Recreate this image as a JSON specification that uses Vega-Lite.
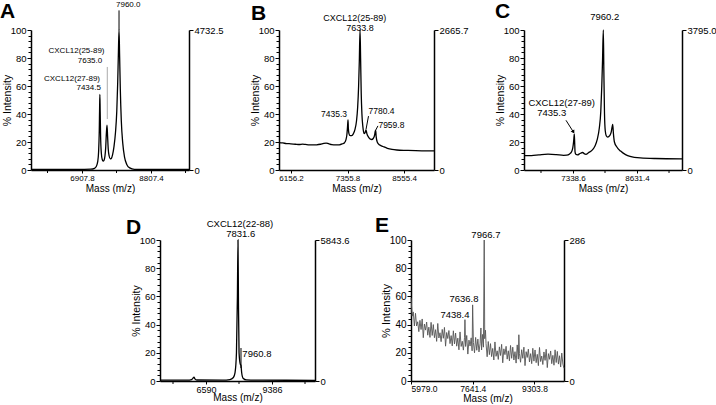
{
"$schema": "https://vega.github.io/schema/vega-lite/v6.json",
"padding": {"left": 0, "top": 0, "right": 0, "bottom": 0},
"spacing": 21,
"config": {
 "view": {"stroke": null},
 "font": "Liberation Sans",
 "title": {"font": "Liberation Sans", "color": "#000"},
 "text": {"font": "Liberation Sans", "color": "#000"},
 "axis": {"domainColor": "#000", "domainWidth": 1.5, "tickColor": "#000", "tickWidth": 1, "labelColor": "#000", "titleColor": "#000", "grid": false, "labelFont": "Liberation Sans", "titleFont": "Liberation Sans", "titleFontWeight": "normal", "labelOverlap": false, "labelFlush": false, "labelBound": false},
 "axisX": {"labelFontSize": 8, "titleFontSize": 10, "tickSize": 3, "labelPadding": 1, "titlePadding": 1},
 "axisY": {"labelFontSize": 9.5, "titleFontSize": 10.5, "tickSize": 4, "labelPadding": 1, "titlePadding": -2}
},
"vconcat": [
 {"hconcat": [
  {"width": 158, "height": 140,
   "title": {"text": "A", "anchor": "start", "frame": "group", "fontSize": 21, "fontWeight": "bold", "dx": -31, "dy": 21, "offset": 0},
   "resolve": {"scale": {"y": "independent"}},
   "layer": [
    {"data": {"values": [
      {"mass": 5504, "pct": 0.4}, {"mass": 6800, "pct": 0.4}, {"mass": 7150, "pct": 0.6}, {"mass": 7250, "pct": 1.2}, {"mass": 7300, "pct": 2.5}, {"mass": 7340, "pct": 6}, {"mass": 7365, "pct": 13}, {"mass": 7383, "pct": 28}, {"mass": 7393, "pct": 45}, {"mass": 7400, "pct": 54}, {"mass": 7408, "pct": 42}, {"mass": 7420, "pct": 24}, {"mass": 7440, "pct": 12}, {"mass": 7465, "pct": 7.5}, {"mass": 7490, "pct": 6.3}, {"mass": 7515, "pct": 7}, {"mass": 7540, "pct": 10}, {"mass": 7560, "pct": 16}, {"mass": 7578, "pct": 26}, {"mass": 7596, "pct": 32}, {"mass": 7612, "pct": 24}, {"mass": 7630, "pct": 15}, {"mass": 7655, "pct": 10}, {"mass": 7685, "pct": 8}, {"mass": 7715, "pct": 8.3}, {"mass": 7750, "pct": 11}, {"mass": 7790, "pct": 17}, {"mass": 7830, "pct": 27}, {"mass": 7865, "pct": 42}, {"mass": 7890, "pct": 62}, {"mass": 7910, "pct": 84}, {"mass": 7927, "pct": 100}, {"mass": 7943, "pct": 82}, {"mass": 7962, "pct": 58}, {"mass": 7990, "pct": 35}, {"mass": 8030, "pct": 19}, {"mass": 8080, "pct": 9}, {"mass": 8140, "pct": 4}, {"mass": 8220, "pct": 1.5}, {"mass": 8350, "pct": 0.5}, {"mass": 9853, "pct": 0.4}
     ]},
     "mark": {"type": "line", "color": "#000", "strokeWidth": 1.3, "interpolate": "monotone"},
     "encoding": {
      "x": {"field": "mass", "type": "quantitative", "title": "Mass (m/z)", "scale": {"domain": [5504, 9853], "nice": false, "zero": false},
            "axis": {"labelOverlap": false, "values": [6907.8, 8807.4], "format": ".1f"}},
      "y": {"field": "pct", "type": "quantitative", "scale": {"domain": [0, 100]},
            "axis": {"labelOverlap": false, "title": "% Intensity", "values": [0,4,8,12,16,20,24,28,32,36,40,44,48,52,56,60,64,68,72,76,80,84,88,92,96,100], "labelExpr": "datum.value % 20 === 0 ? datum.label : ''", "tickSize": {"condition": {"test": "datum.value % 20 === 0", "value": 4}, "value": 3}}}
     }},
    {"data": {"values": [{"mass": 5958}, {"mass": 7857.6}, {"mass": 9757.2}]},
     "mark": {"type": "rule", "color": "#000", "strokeWidth": 1},
     "encoding": {"x": {"field": "mass", "type": "quantitative", "title": "Mass (m/z)", "scale": {"domain": [5504, 9853], "nice": false, "zero": false}},
                  "y": {"datum": 0, "type": "quantitative", "scale": {"domain": [0, 100]}, "axis": null},
                  "y2": {"datum": -2.14}}},
    {"data": {"values": [{"abs": 0}, {"abs": 4732.5}]},
     "mark": {"type": "point", "opacity": 0},
     "encoding": {"y": {"field": "abs", "type": "quantitative", "scale": {"domain": [0, 4732.5], "nice": false}, "axis": {"orient": "right", "title": null, "values": [0, 4732.5], "labelExpr": "datum.value === 0 ? '0' : format(datum.value, '.1f')"}}}},
    {"data": {"values": [{"mass": 6757, "pct": 85.2, "label": "CXCL12(25-89)"}, {"mass": 7128, "pct": 78, "label": "7635.0"}, {"mass": 6633, "pct": 65, "label": "CXCL12(27-89)"}, {"mass": 7092, "pct": 58.3, "label": "7434.5"}]},
     "mark": {"type": "text", "fontSize": 8, "align": "center", "baseline": "middle"},
     "encoding": {"x": {"field": "mass", "type": "quantitative", "title": "Mass (m/z)", "scale": {"domain": [5504, 9853], "nice": false, "zero": false}},
                  "y": {"field": "pct", "type": "quantitative", "scale": {"domain": [0, 100]}, "axis": null},
                  "text": {"field": "label"}}},
    {"data": {"values": [{"mass": 7844, "pct": 118, "label": "7960.0"}]},
     "mark": {"type": "text", "fontSize": 8, "align": "left", "baseline": "middle"},
     "encoding": {"x": {"field": "mass", "type": "quantitative", "title": "Mass (m/z)", "scale": {"domain": [5504, 9853], "nice": false, "zero": false}},
                  "y": {"field": "pct", "type": "quantitative", "scale": {"domain": [0, 100]}, "axis": null},
                  "text": {"field": "label"}}},
    {"data": {"values": [{"mass": 7927, "pct": 100, "pct2": 114}]},
     "mark": {"type": "rule", "color": "#000", "strokeWidth": 1},
     "encoding": {"x": {"field": "mass", "type": "quantitative", "title": "Mass (m/z)", "scale": {"domain": [5504, 9853], "nice": false, "zero": false}},
                  "y": {"field": "pct", "type": "quantitative", "scale": {"domain": [0, 100]}, "axis": null},
                  "y2": {"field": "pct2"}}},
    {"data": {"values": [{"mass": 7604, "pct": 36.4, "pct2": 73.6}]},
     "mark": {"type": "rule", "color": "#aaa", "strokeWidth": 1},
     "encoding": {"x": {"field": "mass", "type": "quantitative", "title": "Mass (m/z)", "scale": {"domain": [5504, 9853], "nice": false, "zero": false}},
                  "y": {"field": "pct", "type": "quantitative", "scale": {"domain": [0, 100]}, "axis": null},
                  "y2": {"field": "pct2"}}}
   ]},
  {"width": 155, "height": 140,
   "title": {"text": "B", "anchor": "start", "frame": "group", "fontSize": 21, "fontWeight": "bold", "dx": -28, "dy": 10, "offset": 0},
   "resolve": {"scale": {"y": "independent"}},
   "layer": [
    {"data": {"values": [
      {"mass": 5900, "pct": 19.6}, {"mass": 5980, "pct": 19.3}, {"mass": 6060, "pct": 18.9}, {"mass": 6150, "pct": 18.7}, {"mass": 6250, "pct": 18.4}, {"mass": 6330, "pct": 18.2}, {"mass": 6400, "pct": 18.5}, {"mass": 6460, "pct": 18.3}, {"mass": 6540, "pct": 18.0}, {"mass": 6620, "pct": 17.9}, {"mass": 6700, "pct": 18.0}, {"mass": 6780, "pct": 18.4}, {"mass": 6850, "pct": 19.0}, {"mass": 6900, "pct": 19.2}, {"mass": 6950, "pct": 18.8}, {"mass": 7020, "pct": 18.1}, {"mass": 7100, "pct": 17.9}, {"mass": 7180, "pct": 18.0}, {"mass": 7240, "pct": 18.6}, {"mass": 7290, "pct": 19.5}, {"mass": 7320, "pct": 21.5}, {"mass": 7340, "pct": 25}, {"mass": 7355, "pct": 31}, {"mass": 7365, "pct": 35.7}, {"mass": 7372, "pct": 30}, {"mass": 7385, "pct": 26}, {"mass": 7410, "pct": 24.5}, {"mass": 7443, "pct": 24.5}, {"mass": 7480, "pct": 26}, {"mass": 7513, "pct": 29}, {"mass": 7545, "pct": 35}, {"mass": 7570, "pct": 45}, {"mass": 7590, "pct": 60}, {"mass": 7605, "pct": 78}, {"mass": 7620, "pct": 100}, {"mass": 7632, "pct": 80}, {"mass": 7645, "pct": 55}, {"mass": 7660, "pct": 40}, {"mass": 7680, "pct": 31}, {"mass": 7705, "pct": 26}, {"mass": 7725, "pct": 26.5}, {"mass": 7747, "pct": 28.6}, {"mass": 7765, "pct": 26}, {"mass": 7800, "pct": 23.5}, {"mass": 7840, "pct": 22}, {"mass": 7868, "pct": 21.8}, {"mass": 7900, "pct": 22.5}, {"mass": 7930, "pct": 25}, {"mass": 7945, "pct": 28}, {"mass": 7953, "pct": 28.2}, {"mass": 7962, "pct": 24}, {"mass": 7985, "pct": 20}, {"mass": 8030, "pct": 18}, {"mass": 8108, "pct": 16.8}, {"mass": 8200, "pct": 15.5}, {"mass": 8300, "pct": 14.7}, {"mass": 8400, "pct": 14.3}, {"mass": 8600, "pct": 14}, {"mass": 8800, "pct": 13.8}, {"mass": 9000, "pct": 13.7}, {"mass": 9190, "pct": 13.6}
     ]},
     "mark": {"type": "line", "color": "#000", "strokeWidth": 1.3, "interpolate": "monotone"},
     "encoding": {
      "x": {"field": "mass", "type": "quantitative", "title": "Mass (m/z)", "scale": {"domain": [5900, 9190], "nice": false, "zero": false},
            "axis": {"labelOverlap": false, "values": [6156.2, 6756.0, 7355.8, 7955.6, 8555.4, 9155.2], "labelExpr": "datum.value === 6156.2 || datum.value === 7355.8 || datum.value === 8555.4 ? format(datum.value, '.1f') : ''"}},
      "y": {"field": "pct", "type": "quantitative", "scale": {"domain": [0, 100]},
            "axis": {"labelOverlap": false, "title": "% Intensity", "values": [0,4,8,12,16,20,24,28,32,36,40,44,48,52,56,60,64,68,72,76,80,84,88,92,96,100], "labelExpr": "datum.value % 20 === 0 ? datum.label : ''", "tickSize": {"condition": {"test": "datum.value % 20 === 0", "value": 4}, "value": 3}}}
     }},
    {"data": {"values": [{"abs": 0}, {"abs": 2665.7}]},
     "mark": {"type": "point", "opacity": 0},
     "encoding": {"y": {"field": "abs", "type": "quantitative", "scale": {"domain": [0, 2665.7], "nice": false}, "axis": {"orient": "right", "title": null, "values": [0, 2665.7], "labelExpr": "datum.value === 0 ? '0' : format(datum.value, '.1f')"}}}},
    {"data": {"values": [{"mass": 7507, "pct": 108.8, "label": "CXCL12(25-89)"}, {"mass": 7620, "pct": 101.5, "label": "7633.8"}]},
     "mark": {"type": "text", "fontSize": 9, "align": "center", "baseline": "middle"},
     "encoding": {"x": {"field": "mass", "type": "quantitative", "title": "Mass (m/z)", "scale": {"domain": [5900, 9190], "nice": false, "zero": false}},
                  "y": {"field": "pct", "type": "quantitative", "scale": {"domain": [0, 100]}, "axis": null},
                  "text": {"field": "label"}}},
    {"data": {"values": [{"mass": 7344, "pct": 40, "label": "7435.3"}]},
     "mark": {"type": "text", "fontSize": 8.5, "align": "right", "baseline": "middle"},
     "encoding": {"x": {"field": "mass", "type": "quantitative", "title": "Mass (m/z)", "scale": {"domain": [5900, 9190], "nice": false, "zero": false}},
                  "y": {"field": "pct", "type": "quantitative", "scale": {"domain": [0, 100]}, "axis": null},
                  "text": {"field": "label"}}},
    {"data": {"values": [{"mass": 7800, "pct": 42, "label": "7780.4"}, {"mass": 8010, "pct": 32, "label": "7959.8"}]},
     "mark": {"type": "text", "fontSize": 8.5, "align": "left", "baseline": "middle"},
     "encoding": {"x": {"field": "mass", "type": "quantitative", "title": "Mass (m/z)", "scale": {"domain": [5900, 9190], "nice": false, "zero": false}},
                  "y": {"field": "pct", "type": "quantitative", "scale": {"domain": [0, 100]}, "axis": null},
                  "text": {"field": "label"}}},
    {"data": {"values": [{"mass": 7747, "pct": 29, "mass2": 7800, "pct2": 38.5}, {"mass": 7953, "pct": 28.5, "mass2": 8000, "pct2": 31.5}]},
     "mark": {"type": "rule", "color": "#000", "strokeWidth": 1},
     "encoding": {"x": {"field": "mass", "type": "quantitative", "title": "Mass (m/z)", "scale": {"domain": [5900, 9190], "nice": false, "zero": false}},
                  "x2": {"field": "mass2"},
                  "y": {"field": "pct", "type": "quantitative", "scale": {"domain": [0, 100]}, "axis": null},
                  "y2": {"field": "pct2"}}}
   ]},
  {"width": 158, "height": 140,
   "title": {"text": "C", "anchor": "start", "frame": "group", "fontSize": 21, "fontWeight": "bold", "dx": -29, "dy": 10, "offset": 0},
   "resolve": {"scale": {"y": "independent"}},
   "layer": [
    {"data": {"values": [
      {"mass": 6349, "pct": 10.2}, {"mass": 6500, "pct": 10.3}, {"mass": 6650, "pct": 10.8}, {"mass": 6834, "pct": 11.3}, {"mass": 7000, "pct": 11}, {"mass": 7150, "pct": 10.5}, {"mass": 7211, "pct": 10.6}, {"mass": 7270, "pct": 11.5}, {"mass": 7310, "pct": 13}, {"mass": 7335, "pct": 16}, {"mass": 7350, "pct": 20}, {"mass": 7360, "pct": 24}, {"mass": 7365, "pct": 25.6}, {"mass": 7372, "pct": 20}, {"mass": 7380, "pct": 13}, {"mass": 7395, "pct": 11.2}, {"mass": 7430, "pct": 10.8}, {"mass": 7480, "pct": 11.8}, {"mass": 7535, "pct": 12.5}, {"mass": 7570, "pct": 11.5}, {"mass": 7600, "pct": 11.2}, {"mass": 7650, "pct": 12.3}, {"mass": 7720, "pct": 14}, {"mass": 7780, "pct": 17}, {"mass": 7830, "pct": 22}, {"mass": 7870, "pct": 30}, {"mass": 7900, "pct": 42}, {"mass": 7920, "pct": 60}, {"mass": 7935, "pct": 78}, {"mass": 7951, "pct": 100}, {"mass": 7962, "pct": 70}, {"mass": 7975, "pct": 40}, {"mass": 7990, "pct": 28}, {"mass": 8010, "pct": 24.5}, {"mass": 8040, "pct": 23.5}, {"mass": 8080, "pct": 24.5}, {"mass": 8110, "pct": 27}, {"mass": 8130, "pct": 31}, {"mass": 8141, "pct": 32.5}, {"mass": 8155, "pct": 26}, {"mass": 8175, "pct": 20}, {"mass": 8221, "pct": 16.6}, {"mass": 8300, "pct": 13.5}, {"mass": 8400, "pct": 11}, {"mass": 8490, "pct": 9.7}, {"mass": 8700, "pct": 8.6}, {"mass": 9000, "pct": 8.2}, {"mass": 9540, "pct": 8}
     ]},
     "mark": {"type": "line", "color": "#000", "strokeWidth": 1.3, "interpolate": "monotone"},
     "encoding": {
      "x": {"field": "mass", "type": "quantitative", "title": "Mass (m/z)", "scale": {"domain": [6349, 9540], "nice": false, "zero": false},
            "axis": {"labelOverlap": false, "values": [7338.6, 8631.4], "format": ".1f"}},
      "y": {"field": "pct", "type": "quantitative", "scale": {"domain": [0, 100]},
            "axis": {"labelOverlap": false, "title": "% Intensity", "values": [0,4,8,12,16,20,24,28,32,36,40,44,48,52,56,60,64,68,72,76,80,84,88,92,96,100], "labelExpr": "datum.value % 20 === 0 ? datum.label : ''", "tickSize": {"condition": {"test": "datum.value % 20 === 0", "value": 4}, "value": 3}}}
     }},
    {"data": {"values": [{"mass": 6692.2}, {"mass": 7985.0}, {"mass": 9277.8}]},
     "mark": {"type": "rule", "color": "#000", "strokeWidth": 1},
     "encoding": {"x": {"field": "mass", "type": "quantitative", "title": "Mass (m/z)", "scale": {"domain": [6349, 9540], "nice": false, "zero": false}},
                  "y": {"datum": 0, "type": "quantitative", "scale": {"domain": [0, 100]}, "axis": null},
                  "y2": {"datum": -2.14}}},
    {"data": {"values": [{"abs": 0}, {"abs": 3795.0}]},
     "mark": {"type": "point", "opacity": 0},
     "encoding": {"y": {"field": "abs", "type": "quantitative", "scale": {"domain": [0, 3795.0], "nice": false}, "axis": {"orient": "right", "title": null, "values": [0, 3795.0], "labelExpr": "datum.value === 0 ? '0' : format(datum.value, '.1f')"}}}},
    {"data": {"values": [{"mass": 7979, "pct": 109, "label": "7960.2"}, {"mass": 7110, "pct": 48, "label": "CXCL12(27-89)"}, {"mass": 6909, "pct": 40.8, "label": "7435.3"}]},
     "mark": {"type": "text", "fontSize": 9.5, "align": "center", "baseline": "middle"},
     "encoding": {"x": {"field": "mass", "type": "quantitative", "title": "Mass (m/z)", "scale": {"domain": [6349, 9540], "nice": false, "zero": false}},
                  "y": {"field": "pct", "type": "quantitative", "scale": {"domain": [0, 100]}, "axis": null},
                  "text": {"field": "label"}}},
    {"data": {"values": [{"mass": 7197, "pct": 35.5, "mass2": 7335, "pct2": 27.8}]},
     "mark": {"type": "rule", "color": "#000", "strokeWidth": 1},
     "encoding": {"x": {"field": "mass", "type": "quantitative", "title": "Mass (m/z)", "scale": {"domain": [6349, 9540], "nice": false, "zero": false}},
                  "x2": {"field": "mass2"},
                  "y": {"field": "pct", "type": "quantitative", "scale": {"domain": [0, 100]}, "axis": null},
                  "y2": {"field": "pct2"}}},
    {"data": {"values": [{"mass": 7340, "pct": 27.5}]},
     "mark": {"type": "point", "shape": "triangle", "angle": 150, "size": 18, "filled": true, "color": "#000", "opacity": 1},
     "encoding": {"x": {"field": "mass", "type": "quantitative", "title": "Mass (m/z)", "scale": {"domain": [6349, 9540], "nice": false, "zero": false}},
                  "y": {"field": "pct", "type": "quantitative", "scale": {"domain": [0, 100]}, "axis": null}}}
   ]}
 ], "spacing": 90, "bounds": "flush"},
 {"hconcat": [
  {"width": 33, "height": 140, "data": {"values": [{"k": 1}]}, "mark": {"type": "point", "opacity": 0}, "encoding": {}},
  {"width": 155, "height": 141,
   "title": {"text": "D", "anchor": "start", "frame": "group", "fontSize": 21, "fontWeight": "bold", "dx": -34, "dy": 19, "offset": 0},
   "resolve": {"scale": {"y": "independent"}},
   "layer": [
    {"data": {"values": [
      {"mass": 4641, "pct": 0.6}, {"mass": 5800, "pct": 0.6}, {"mass": 5980, "pct": 1}, {"mass": 6040, "pct": 2}, {"mass": 6081, "pct": 2.8}, {"mass": 6120, "pct": 1.5}, {"mass": 6200, "pct": 0.7}, {"mass": 7300, "pct": 0.6}, {"mass": 7600, "pct": 1}, {"mass": 7750, "pct": 2.5}, {"mass": 7820, "pct": 6}, {"mass": 7880, "pct": 20}, {"mass": 7920, "pct": 60}, {"mass": 7945, "pct": 100}, {"mass": 7965, "pct": 55}, {"mass": 7990, "pct": 20}, {"mass": 8040, "pct": 12}, {"mass": 8072, "pct": 11}, {"mass": 8100, "pct": 6}, {"mass": 8160, "pct": 2}, {"mass": 8300, "pct": 0.8}, {"mass": 9000, "pct": 0.6}, {"mass": 11207, "pct": 0.5}
     ]},
     "mark": {"type": "line", "color": "#000", "strokeWidth": 1.3, "interpolate": "monotone"},
     "encoding": {
      "x": {"field": "mass", "type": "quantitative", "title": "Mass (m/z)", "scale": {"domain": [4641, 11207], "nice": false, "zero": false},
            "axis": {"labelOverlap": false, "values": [6590, 9386], "format": "d", "labelFontSize": 9, "titlePadding": -2}},
      "y": {"field": "pct", "type": "quantitative", "scale": {"domain": [0, 100]},
            "axis": {"labelOverlap": false, "title": "% Intensity", "values": [0,4,8,12,16,20,24,28,32,36,40,44,48,52,56,60,64,68,72,76,80,84,88,92,96,100], "labelExpr": "datum.value % 20 === 0 ? datum.label : ''", "tickSize": {"condition": {"test": "datum.value % 20 === 0", "value": 4}, "value": 3}}}
     }},
    {"data": {"values": [{"mass": 5192}, {"mass": 7988}, {"mass": 10784}]},
     "mark": {"type": "rule", "color": "#000", "strokeWidth": 1},
     "encoding": {"x": {"field": "mass", "type": "quantitative", "title": "Mass (m/z)", "scale": {"domain": [4641, 11207], "nice": false, "zero": false}},
                  "y": {"datum": 0, "type": "quantitative", "scale": {"domain": [0, 100]}, "axis": null},
                  "y2": {"datum": -2.13}}},
    {"data": {"values": [{"abs": 0}, {"abs": 5843.6}]},
     "mark": {"type": "point", "opacity": 0},
     "encoding": {"y": {"field": "abs", "type": "quantitative", "scale": {"domain": [0, 5843.6], "nice": false}, "axis": {"orient": "right", "title": null, "values": [0, 5843.6], "labelExpr": "datum.value === 0 ? '0' : format(datum.value, '.1f')"}}}},
    {"data": {"values": [{"mass": 8029, "pct": 111.3, "label": "CXCL12(22-88)"}, {"mass": 8059, "pct": 104.3, "label": "7831.6"}]},
     "mark": {"type": "text", "fontSize": 9.5, "align": "center", "baseline": "middle"},
     "encoding": {"x": {"field": "mass", "type": "quantitative", "title": "Mass (m/z)", "scale": {"domain": [4641, 11207], "nice": false, "zero": false}},
                  "y": {"field": "pct", "type": "quantitative", "scale": {"domain": [0, 100]}, "axis": null},
                  "text": {"field": "label"}}},
    {"data": {"values": [{"mass": 8130, "pct": 19.4, "label": "7960.8"}]},
     "mark": {"type": "text", "fontSize": 9.5, "align": "left", "baseline": "middle"},
     "encoding": {"x": {"field": "mass", "type": "quantitative", "title": "Mass (m/z)", "scale": {"domain": [4641, 11207], "nice": false, "zero": false}},
                  "y": {"field": "pct", "type": "quantitative", "scale": {"domain": [0, 100]}, "axis": null},
                  "text": {"field": "label"}}},
    {"data": {"values": [{"mass": 8072, "pct": 9.2, "pct2": 23.4}]},
     "mark": {"type": "rule", "color": "#000", "strokeWidth": 1},
     "encoding": {"x": {"field": "mass", "type": "quantitative", "title": "Mass (m/z)", "scale": {"domain": [4641, 11207], "nice": false, "zero": false}},
                  "y": {"field": "pct", "type": "quantitative", "scale": {"domain": [0, 100]}, "axis": null},
                  "y2": {"field": "pct2"}}}
   ]},
  {"width": 153, "height": 141,
   "title": {"text": "E", "anchor": "start", "frame": "group", "fontSize": 21, "fontWeight": "bold", "dx": -36, "dy": 6, "offset": 0},
   "resolve": {"scale": {"y": "independent"}},
   "layer": [
    {"data": {"values": [
      {"mass": 5980, "pct": 59}, {"mass": 6010, "pct": 46}, {"mass": 6040, "pct": 49}, {"mass": 6070, "pct": 39}, {"mass": 6100, "pct": 48}, {"mass": 6130, "pct": 39}, {"mass": 6160, "pct": 42}, {"mass": 6190, "pct": 35}, {"mass": 6220, "pct": 43}, {"mass": 6250, "pct": 36.5}, {"mass": 6280, "pct": 44}, {"mass": 6310, "pct": 30.7}, {"mass": 6340, "pct": 40.4}, {"mass": 6370, "pct": 36.1}, {"mass": 6400, "pct": 41.8}, {"mass": 6430, "pct": 32.5}, {"mass": 6460, "pct": 38.2}, {"mass": 6490, "pct": 30.9}, {"mass": 6520, "pct": 41.6}, {"mass": 6550, "pct": 32.3}, {"mass": 6580, "pct": 40}, {"mass": 6610, "pct": 30.7}, {"mass": 6640, "pct": 36.4}, {"mass": 6670, "pct": 28.1}, {"mass": 6700, "pct": 40.8}, {"mass": 6730, "pct": 30.5}, {"mass": 6760, "pct": 34.2}, {"mass": 6790, "pct": 27.9}, {"mass": 6820, "pct": 36.6}, {"mass": 6850, "pct": 30.3}, {"mass": 6880, "pct": 38}, {"mass": 6910, "pct": 24.7}, {"mass": 6940, "pct": 34.4}, {"mass": 6970, "pct": 30.1}, {"mass": 7000, "pct": 35.8}, {"mass": 7030, "pct": 26.5}, {"mass": 7060, "pct": 32.2}, {"mass": 7090, "pct": 24.9}, {"mass": 7120, "pct": 35.6}, {"mass": 7150, "pct": 26.3}, {"mass": 7180, "pct": 34}, {"mass": 7210, "pct": 24.7}, {"mass": 7240, "pct": 30.4}, {"mass": 7270, "pct": 22.1}, {"mass": 7300, "pct": 34.8}, {"mass": 7330, "pct": 24.5}, {"mass": 7360, "pct": 28.2}, {"mass": 7390, "pct": 21.9}, {"mass": 7420, "pct": 30.7}, {"mass": 7432, "pct": 43.5}, {"mass": 7450, "pct": 24.5}, {"mass": 7480, "pct": 32.3}, {"mass": 7510, "pct": 19.1}, {"mass": 7540, "pct": 29}, {"mass": 7570, "pct": 24.8}, {"mass": 7600, "pct": 30.6}, {"mass": 7625, "pct": 21.4}, {"mass": 7639, "pct": 54}, {"mass": 7660, "pct": 27.2}, {"mass": 7690, "pct": 20}, {"mass": 7720, "pct": 30.9}, {"mass": 7750, "pct": 21.8}, {"mass": 7780, "pct": 29.7}, {"mass": 7810, "pct": 20.6}, {"mass": 7840, "pct": 26.5}, {"mass": 7862, "pct": 37.6}, {"mass": 7880, "pct": 22}, {"mass": 7905, "pct": 33}, {"mass": 7930, "pct": 24}, {"mass": 7951, "pct": 100}, {"mass": 7965, "pct": 30}, {"mass": 7985, "pct": 36}, {"mass": 8000, "pct": 26.5}, {"mass": 8030, "pct": 17.2}, {"mass": 8060, "pct": 28}, {"mass": 8090, "pct": 18.7}, {"mass": 8120, "pct": 26.5}, {"mass": 8150, "pct": 17.3}, {"mass": 8180, "pct": 23.1}, {"mass": 8210, "pct": 14.9}, {"mass": 8240, "pct": 27.7}, {"mass": 8270, "pct": 17.5}, {"mass": 8300, "pct": 21.4}, {"mass": 8330, "pct": 15.3}, {"mass": 8360, "pct": 24.2}, {"mass": 8390, "pct": 18.1}, {"mass": 8420, "pct": 26}, {"mass": 8450, "pct": 12.9}, {"mass": 8480, "pct": 22.8}, {"mass": 8510, "pct": 18.7}, {"mass": 8540, "pct": 24.6}, {"mass": 8570, "pct": 15.5}, {"mass": 8600, "pct": 21.4}, {"mass": 8630, "pct": 14.3}, {"mass": 8660, "pct": 25.2}, {"mass": 8690, "pct": 16.1}, {"mass": 8720, "pct": 24}, {"mass": 8750, "pct": 14.9}, {"mass": 8780, "pct": 20.8}, {"mass": 8810, "pct": 12.7}, {"mass": 8840, "pct": 25.6}, {"mass": 8870, "pct": 15.5}, {"mass": 8884, "pct": 32.8}, {"mass": 8900, "pct": 19.4}, {"mass": 8930, "pct": 13.3}, {"mass": 8960, "pct": 22.2}, {"mass": 8990, "pct": 16.1}, {"mass": 9020, "pct": 24}, {"mass": 9050, "pct": 10.9}, {"mass": 9080, "pct": 20.8}, {"mass": 9110, "pct": 16.7}, {"mass": 9140, "pct": 22.6}, {"mass": 9170, "pct": 13.5}, {"mass": 9200, "pct": 19.4}, {"mass": 9230, "pct": 12.3}, {"mass": 9260, "pct": 23.2}, {"mass": 9290, "pct": 14.1}, {"mass": 9320, "pct": 22}, {"mass": 9350, "pct": 13}, {"mass": 9380, "pct": 18.9}, {"mass": 9410, "pct": 10.9}, {"mass": 9440, "pct": 23.8}, {"mass": 9470, "pct": 13.8}, {"mass": 9500, "pct": 17.7}, {"mass": 9530, "pct": 11.7}, {"mass": 9560, "pct": 20.6}, {"mass": 9590, "pct": 14.6}, {"mass": 9620, "pct": 22.5}, {"mass": 9650, "pct": 9.5}, {"mass": 9680, "pct": 19.4}, {"mass": 9710, "pct": 15.4}, {"mass": 9740, "pct": 21.3}, {"mass": 9770, "pct": 12.3}, {"mass": 9800, "pct": 18.2}, {"mass": 9830, "pct": 11.2}, {"mass": 9860, "pct": 22.1}, {"mass": 9890, "pct": 13.1}, {"mass": 9920, "pct": 21}, {"mass": 9950, "pct": 12}, {"mass": 9980, "pct": 17.9}, {"mass": 10010, "pct": 9.9}, {"mass": 10040, "pct": 19.8}, {"mass": 10070, "pct": 12}, {"mass": 10100, "pct": 9}
     ]},
     "mark": {"type": "line", "color": "#555", "strokeWidth": 0.9, "interpolate": "linear"},
     "encoding": {
      "x": {"field": "mass", "type": "quantitative", "title": "Mass (m/z)", "scale": {"domain": [5979, 10100], "nice": false, "zero": false},
            "axis": {"labelOverlap": false, "values": [5979.0, 6810.2, 7641.4, 8472.6, 9303.8], "labelFlush": true, "labelExpr": "datum.value === 5979 || datum.value === 7641.4 || datum.value === 9303.8 ? format(datum.value, '.1f') : ''", "labelFontSize": 8.5, "labelPadding": 0, "titlePadding": 1}},
      "y": {"field": "pct", "type": "quantitative", "scale": {"domain": [0, 100]},
            "axis": {"labelOverlap": false, "title": "% Intensity", "values": [0,4,8,12,16,20,24,28,32,36,40,44,48,52,56,60,64,68,72,76,80,84,88,92,96,100], "labelExpr": "datum.value % 20 === 0 ? datum.label : ''", "tickSize": {"condition": {"test": "datum.value % 20 === 0", "value": 4}, "value": 3}, "labelFontSize": 10, "titleFontSize": 11}}
     }},
    {"data": {"values": [{"abs": 0}, {"abs": 286}]},
     "mark": {"type": "point", "opacity": 0},
     "encoding": {"y": {"field": "abs", "type": "quantitative", "scale": {"domain": [0, 286], "nice": false}, "axis": {"orient": "right", "title": null, "values": [0, 286], "labelExpr": "datum.label"}}}},
    {"data": {"values": [{"mass": 7996, "pct": 103.8, "label": "7966.7"}, {"mass": 7405, "pct": 58.4, "label": "7636.8"}, {"mass": 7163, "pct": 46.6, "label": "7438.4"}]},
     "mark": {"type": "text", "fontSize": 9.5, "align": "center", "baseline": "middle"},
     "encoding": {"x": {"field": "mass", "type": "quantitative", "title": "Mass (m/z)", "scale": {"domain": [5979, 10100], "nice": false, "zero": false}},
                  "y": {"field": "pct", "type": "quantitative", "scale": {"domain": [0, 100]}, "axis": null},
                  "text": {"field": "label"}}}
   ]}
 ], "spacing": 96, "bounds": "flush"}
]
}
